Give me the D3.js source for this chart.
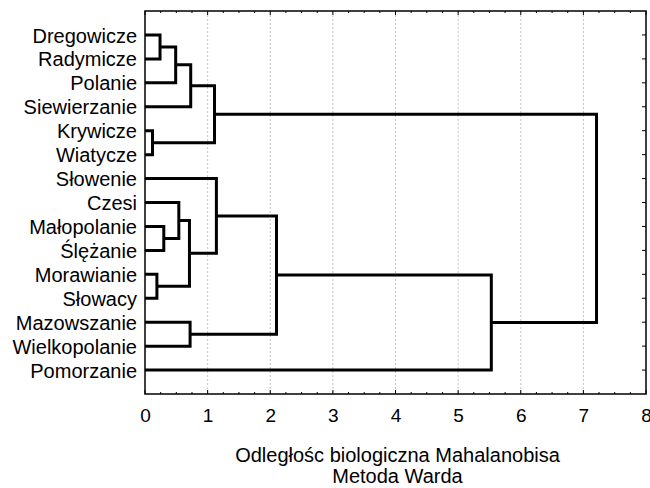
<!DOCTYPE html>
<html>
<head>
<meta charset="utf-8">
<script src="https://cdn.jsdelivr.net/npm/d3@7"></script>
<style>
    body { margin: 0; background: #fff; }
    text { font-family: "Liberation Sans", Arial, sans-serif; fill: #000; }
</style>
</head>
<body>
<div id="chart"></div>
<script>
// leaves, top to bottom
const leaves = ["Dregowicze", "Radymicze", "Polanie", "Siewierzanie", "Krywicze", "Wiatycze",
    "Słowenie", "Czesi", "Małopolanie", "Ślężanie", "Morawianie", "Słowacy",
    "Mazowszanie", "Wielkopolanie", "Pomorzanie"];

// merges: [left, right] - "c<i>" points at an earlier merge
const pairs = [
    ["Dregowicze", "Radymicze"],   // c0
    ["c0", "Polanie"],             // c1
    ["c1", "Siewierzanie"],        // c2
    ["Krywicze", "Wiatycze"],      // c3
    ["c2", "c3"],                  // c4
    ["Małopolanie", "Ślężanie"],   // c5
    ["Czesi", "c5"],               // c6
    ["Morawianie", "Słowacy"],     // c7
    ["c6", "c7"],                  // c8
    ["Słowenie", "c8"],            // c9
    ["Mazowszanie", "Wielkopolanie"], // c10
    ["c9", "c10"],                 // c11
    ["c11", "Pomorzanie"],         // c12
    ["c4", "c12"]                  // c13
];
const heights = [0.24, 0.49, 0.73, 0.12, 1.11, 0.30, 0.54, 0.19, 0.71, 1.14, 0.72, 2.10, 5.53, 7.21];

const xTicks = [0, 1, 2, 3, 4, 5, 6, 7, 8];
const xTitle = ["Odległośc biologiczna Mahalanobisa", "Metoda Warda"];

const width = 650, height = 488;
const margin = {top: 11, right: 4, bottom: 94, left: 145};
const innerW = 646 - margin.left;
const innerH = 394 - margin.top;

const svg = d3.select("#chart").append("svg")
    .attr("width", width)
    .attr("height", height);

const g = svg.append("g").attr("transform", `translate(${margin.left},${margin.top})`);

const x = d3.scaleLinear().domain([0, 8]).range([0, innerW]);
const y = d3.scalePoint().domain(leaves).range([0, innerH]).padding(1);

// grid lines
g.append("g")
    .selectAll("line")
    .data(xTicks.slice(1, -1))
    .enter().append("line")
    .attr("x1", d => x(d)).attr("x2", d => x(d))
    .attr("y1", 0).attr("y2", innerH)
    .attr("stroke", "#c4c4c4")
    .attr("stroke-width", 1)
    .attr("stroke-dasharray", "2,2");

// minor/major ticks on top and bottom, pointing inward
const minor = d3.range(0, 8.001, 0.25);
const tickG = g.append("g").attr("stroke", "#000").attr("stroke-width", 1);
minor.forEach(function (v) {
    const major = Math.abs(v - Math.round(v)) < 1e-6;
    const len = major ? 4 : 2;
    tickG.append("line")
        .attr("x1", x(v)).attr("x2", x(v))
        .attr("y1", innerH).attr("y2", innerH - len);
    tickG.append("line")
        .attr("x1", x(v)).attr("x2", x(v))
        .attr("y1", 0).attr("y2", len);
});
// side ticks at each leaf
leaves.forEach(function (d) {
    tickG.append("line")
        .attr("x1", innerW).attr("x2", innerW - 4)
        .attr("y1", y(d)).attr("y2", y(d));
    tickG.append("line")
        .attr("x1", 0).attr("x2", 4)
        .attr("y1", y(d)).attr("y2", y(d));
});

// frame
g.append("rect")
    .attr("x", 0).attr("y", 0)
    .attr("width", innerW).attr("height", innerH)
    .attr("fill", "none")
    .attr("stroke", "#000")
    .attr("stroke-width", 1.5);

// bottom tick labels
const xAxis = d3.axisBottom(x).tickValues(xTicks).tickSize(0).tickPadding(15);
const axG = g.append("g")
    .attr("transform", `translate(0,${innerH})`)
    .call(xAxis);
axG.select(".domain").remove();
axG.selectAll("text")
    .attr("font-size", 19)
    .attr("font-family", "Liberation Sans, Arial, sans-serif");

// leaf labels
g.append("g")
    .selectAll("text")
    .data(leaves)
    .enter().append("text")
    .attr("x", -8)
    .attr("y", d => y(d))
    .attr("dy", "0.38em")
    .attr("text-anchor", "end")
    .attr("font-size", 20)
    .text(d => d);

// dendrogram
const nodePos = {};
leaves.forEach(function (d) { nodePos[d] = {x: 0, y: y(d)}; });
pairs.forEach(function (p, i) {
    const a = nodePos[p[0]], b = nodePos[p[1]];
    const hx = x(heights[i]);
    g.append("path")
        .attr("d", `M${x(a.x)},${a.y}H${hx}V${b.y}H${x(b.x)}`)
        .attr("fill", "none")
        .attr("stroke", "#000")
        .attr("stroke-width", 3)
        .attr("stroke-linejoin", "miter");
    nodePos["c" + i] = {x: heights[i], y: (a.y + b.y) / 2};
});

// axis title
svg.append("g")
    .selectAll("text")
    .data(xTitle)
    .enter().append("text")
    .attr("x", margin.left + innerW / 2 + 2)
    .attr("y", (d, i) => 462 + i * 21)
    .attr("text-anchor", "middle")
    .attr("font-size", 20)
    .text(d => d);
</script>
</body>
</html>
